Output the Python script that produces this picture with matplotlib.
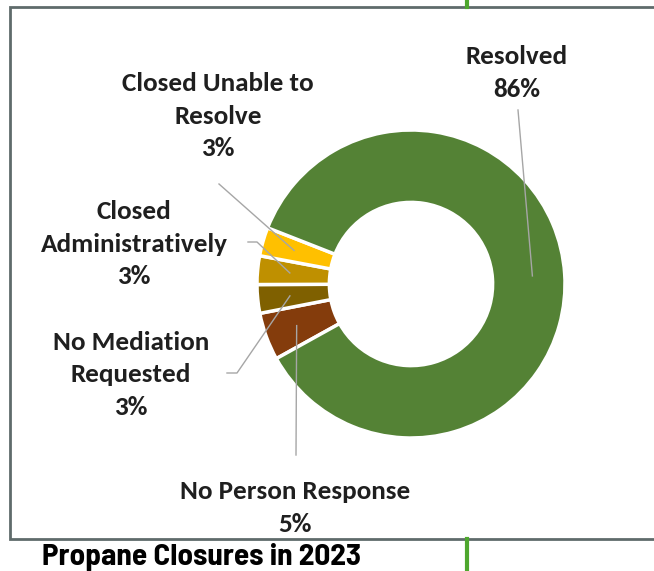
import numpy as np
import matplotlib.pyplot as plt

# data, clockwise from the bottom-left of the ring
labels = ['No Person Response', 'No Mediation\nRequested', 'Closed\nAdministratively',
          'Closed Unable to\nResolve', 'Resolved']
values = [5, 3, 3, 3, 86]
colors = ['#843C0C', '#7F6000', '#BF9000', '#FFC000', '#548235']

W, H = 654, 571
cx, cy, R = 411, 284, 154  # ring centre and radius, pixels
start = 209.0

# where each label block sits and where its leader line starts (pixels)
label_pos = [(295, 508), (131, 375), (134, 244), (218, 116), (517, 73)]
leader_tail = [[(296, 455)], [(227, 373), (237, 373)], [(248, 242), (257, 242)],
               [(219, 184)], [(518, 110)]]

fig = plt.figure(figsize=(W / 100, H / 100), dpi=100)

# ring
pax = fig.add_axes([(cx - R) / W, (H - cy - R) / H, 2 * R / W, 2 * R / H])
wedges, _ = pax.pie(values, colors=colors, startangle=start, counterclock=False,
                    radius=1, wedgeprops=dict(width=0.47, edgecolor='white', linewidth=2.5))
pax.set_xlim(-1, 1)
pax.set_ylim(-1, 1)
pax.set_aspect('equal')
pax.axis('off')

# overlay in pixel coordinates
ax = fig.add_axes([0, 0, 1, 1], zorder=5)
ax.set_xlim(0, W)
ax.set_ylim(H, 0)
ax.axis('off')

# frame and green rule
ax.plot([W + 5, 10, 10, W + 5], [7, 7, 539, 539], color='#5F6B6B', lw=2,
        solid_joinstyle='miter', clip_on=False)
ax.plot([467, 467], [0, 7], color='#4EA72E', lw=3)
ax.plot([467, 467], [539, H], color='#4EA72E', lw=3)

font = ['Carlito', 'Lato']
total = sum(values)
for w, lab, v, pos, tail in zip(wedges, labels, values, label_pos, leader_tail):
    mid = np.deg2rad((w.theta1 + w.theta2) / 2)
    px = cx + 0.79 * R * np.cos(mid)
    py = cy - 0.79 * R * np.sin(mid)
    xs = [p[0] for p in tail] + [px]
    ys = [p[1] for p in tail] + [py]
    ax.plot(xs, ys, color='#A6A6A6', lw=1)
    ax.text(pos[0], pos[1], f'{lab}\n{round(100 * v / total)}%', ha='center', va='center',
            fontsize=19.5, fontweight='bold', family=font, color='#1F1F1F', linespacing=1.5)

ax.text(42, 557, 'Propane Closures in 2023', ha='left', va='center', fontsize=22.5,
        fontweight='bold', family='Barlow Semi Condensed', color='black')

fig.savefig('out.png', dpi=100)
